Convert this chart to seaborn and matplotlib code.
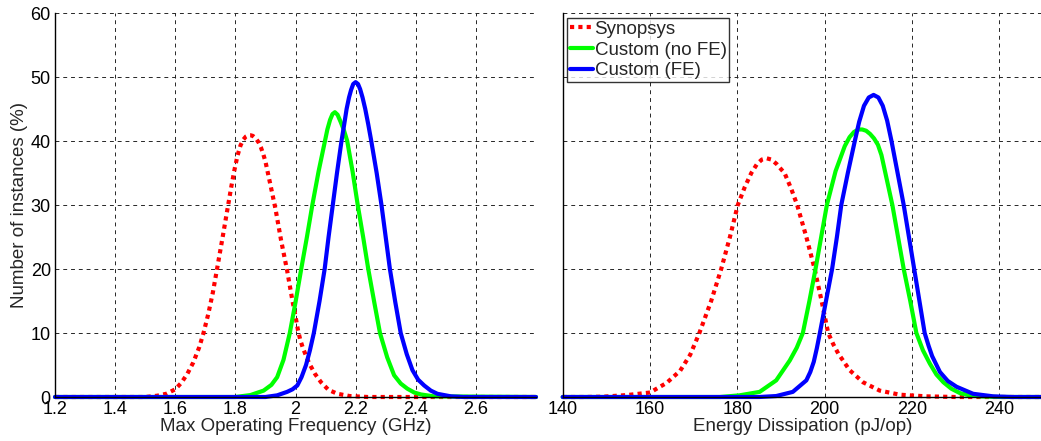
import numpy as np
import pandas as pd
import matplotlib as mpl
mpl.use("Agg")
import matplotlib.pyplot as plt
import seaborn as sns

sns.set_style("white")
plt.rcParams['font.family'] = ['Liberation Sans', 'DejaVu Sans']

# --- left panel: max operating frequency (GHz) ---
freq_syn_x = [1.2, 1.50, 1.54, 1.57, 1.60, 1.62, 1.64, 1.66, 1.68, 1.694, 1.71, 1.725, 1.739,
              1.757, 1.776, 1.787, 1.797, 1.807, 1.817, 1.826, 1.835, 1.843, 1.850, 1.858,
              1.868, 1.877, 1.885, 1.893, 1.90, 1.915, 1.933, 1.952, 1.972, 1.99, 2.0, 2.008,
              2.016, 2.025, 2.045, 2.065, 2.085, 2.11, 2.14, 2.18, 2.24, 2.8]
freq_syn_y = [0, 0, 0.2, 0.5, 1.2, 2.2, 3.6, 5.4, 7.8, 10, 13.0, 16.3, 20,
              24.8, 30, 33.0, 35.5, 37.7, 39.3, 40.2, 40.7, 40.9, 40.9, 40.8,
              40.4, 39.8, 39.0, 37.9, 36.8, 33.5, 29.5, 24.5, 19.8, 15.0, 12.6, 10.5,
              8.9, 7.6, 5.3, 3.6, 2.3, 1.1, 0.5, 0.15, 0, 0]

freq_nofe_x = [1.2, 1.80, 1.85, 1.894, 1.92, 1.939, 1.96, 1.981, 2.0, 2.019, 2.038, 2.056,
               2.077, 2.098, 2.106, 2.115, 2.123, 2.131, 2.14, 2.15, 2.161, 2.172, 2.19, 2.207,
               2.225, 2.242, 2.262, 2.281, 2.305, 2.328, 2.35, 2.372, 2.395, 2.417, 2.46, 2.8]
freq_nofe_y = [0, 0, 0.3, 1.0, 1.9, 3.1, 5.8, 10, 14.8, 20, 25.0, 30,
               35.3, 40, 41.8, 43.3, 44.2, 44.5, 44.1, 43.0, 41.7, 40, 35.2, 30,
               25.0, 20, 14.8, 10, 6.2, 3.4, 2.1, 1.3, 0.7, 0.4, 0.1, 0]

freq_fe_x = [1.2, 1.90, 1.939, 1.972, 1.99, 2.006, 2.02, 2.035, 2.048, 2.061, 2.08, 2.097,
             2.11, 2.124, 2.138, 2.153, 2.162, 2.17, 2.178, 2.185, 2.192, 2.2, 2.208, 2.215,
             2.223, 2.232, 2.242, 2.252, 2.27, 2.286, 2.30, 2.314, 2.332, 2.35, 2.37, 2.389,
             2.408, 2.428, 2.45, 2.472, 2.517, 2.56, 2.8]
freq_fe_y = [0, 0, 0.26, 0.8, 1.2, 1.8, 3.1, 5.0, 7.3, 10, 15.0, 20,
             25.0, 30, 35.0, 40, 42.6, 45.0, 46.8, 48.0, 48.9, 49.2, 48.9, 48.1,
             46.8, 45.0, 42.6, 40, 35.0, 30, 25.0, 20, 14.8, 10, 6.7, 4.2,
             2.7, 1.8, 1.0, 0.5, 0.1, 0, 0]

# --- right panel: energy dissipation (pJ/op) ---
energy_syn_x = [140, 145, 149.3, 154.7, 160, 163.8, 166.9, 169.2, 171.3, 174.0, 176.3, 178.3,
                180.1, 181.7, 183.2, 184.5, 185.6, 186.7, 187.8, 189.0, 190.0, 190.8, 192.3,
                193.7, 195.8, 197.7, 199.3, 200.8, 202.0, 203.1, 205.7, 208.8, 212.6, 217.2,
                223.3, 230, 250]
energy_syn_y = [0, 0, 0.05, 0.3, 0.7, 2.2, 4.1, 6.6, 10, 15.0, 20, 25.0,
                30, 32.8, 35, 36.4, 37.1, 37.3, 37.1, 36.4, 35.6, 35, 32.6,
                30, 25.0, 20, 15.0, 10, 8.2, 6.8, 4.2, 2.3, 1.0, 0.36,
                0.1, 0, 0]

energy_nofe_x = [140, 176, 180.5, 185.1, 188.9, 192.0, 193.6, 195.0, 196.5, 197.9, 199.2, 200.5,
                 202.5, 204.6, 205.7, 206.7, 207.7, 208.6, 209.5, 210.4, 211.3, 212.2, 213.0,
                 213.9, 215.5, 216.8, 218.1, 219.6, 221.0, 222.5, 224.1, 225.6, 227.2, 229.0,
                 231.0, 233.3, 235.6, 240, 250]
energy_nofe_y = [0, 0, 0.26, 0.8, 2.6, 5.7, 7.7, 10, 15.0, 20, 25.0, 30,
                 35.3, 39.2, 40.6, 41.4, 41.8, 41.8, 41.6, 41.1, 40.4, 39.4, 37.8,
                 35.0, 30, 25.0, 20, 15.0, 10, 7.3, 5.2, 3.5, 2.3, 1.3,
                 0.6, 0.25, 0.1, 0, 0]

energy_fe_x = [140, 185, 188.9, 192.7, 195.8, 196.7, 197.5, 198.2, 198.9, 200.3, 201.7, 202.8,
               203.8, 205.3, 206.9, 207.9, 209.0, 210.1, 211.2, 212.3, 213.3, 214.3, 215.3,
               216.7, 218.1, 219.3, 220.5, 221.7, 222.9, 223.8, 224.6, 226.4, 228.2, 230.2,
               234.0, 238.6, 243, 250]
energy_fe_y = [0, 0, 0.15, 0.8, 2.6, 3.9, 5.5, 7.6, 10, 15.0, 20, 25.0,
               30, 35.0, 40, 43.0, 45.5, 46.8, 47.2, 46.8, 45.5, 43.2, 40,
               35.0, 30, 25.0, 20, 15.0, 10, 8.0, 6.4, 3.9, 2.5, 1.6,
               0.5, 0.1, 0, 0]

labels = ['Synopsys', 'Custom (no FE)', 'Custom (FE)']
colors = ['#ff0000', '#00ff00', '#0000ff']
styles = [(0, (1, 1)), '-', '-']

freq_series = [(freq_syn_x, freq_syn_y), (freq_nofe_x, freq_nofe_y), (freq_fe_x, freq_fe_y)]
energy_series = [(energy_syn_x, energy_syn_y), (energy_nofe_x, energy_nofe_y),
                 (energy_fe_x, energy_fe_y)]

fig = plt.figure(figsize=(10.41, 4.41), dpi=100)
ax1 = fig.add_axes([55 / 1041, 44 / 441, 481 / 1041, 384 / 441])
ax2 = fig.add_axes([562.7 / 1041, 44 / 441, 480.3 / 1041, 384 / 441])

for ax, series in [(ax1, freq_series), (ax2, energy_series)]:
    for (xs, ys), lab, col, ls in zip(series, labels, colors, styles):
        df = pd.DataFrame({'x': xs, 'y': ys})
        sns.lineplot(data=df, x='x', y='y', ax=ax, color=col, linewidth=3,
                     linestyle=ls, label=lab, estimator=None, sort=True,
                     clip_on=False, dash_capstyle='butt',
                     solid_joinstyle='round')
    ax.set_ylim(0, 60)
    ax.set_yticks([0, 10, 20, 30, 40, 50, 60])
    ax.grid(True, color='0.15', linestyle=(0, (4, 4)), linewidth=0.7)
    ax.set_axisbelow(True)
    for side in ['top', 'right']:
        ax.spines[side].set_visible(False)
    for side in ['left', 'bottom']:
        ax.spines[side].set_color('black')
        ax.spines[side].set_linewidth(1.0)
    ax.tick_params(direction='in', length=3, width=0.8, labelsize=13, pad=3, colors='black')
    ax.set_ylabel('')
    if ax.get_legend() is not None:
        ax.get_legend().remove()

ax1.set_xlim(1.2, 2.8)
ax1.set_xticks([1.2, 1.4, 1.6, 1.8, 2.0, 2.2, 2.4, 2.6])
ax1.set_xticklabels(['1.2', '1.4', '1.6', '1.8', '2', '2.2', '2.4', '2.6'])
ax1.set_xlabel('Max Operating Frequency (GHz)', fontsize=13.5, labelpad=0)
ax1.set_ylabel('Number of instances (%)', fontsize=13.5, labelpad=2)

ax2.set_xlim(140, 250)
ax2.set_xticks([140, 160, 180, 200, 220, 240])
ax2.set_xlabel('Energy Dissipation (pJ/op)', fontsize=13.5, labelpad=0)
ax2.tick_params(labelleft=False)

leg = ax2.legend(loc='upper left', fontsize=13.5, frameon=True, fancybox=False,
                 handlelength=1.2, handletextpad=0.1, borderpad=0.15,
                 labelspacing=0.2, borderaxespad=0.25)
leg.get_frame().set_edgecolor('black')
leg.get_frame().set_linewidth(1.0)

fig.savefig('out.png', dpi=100)
